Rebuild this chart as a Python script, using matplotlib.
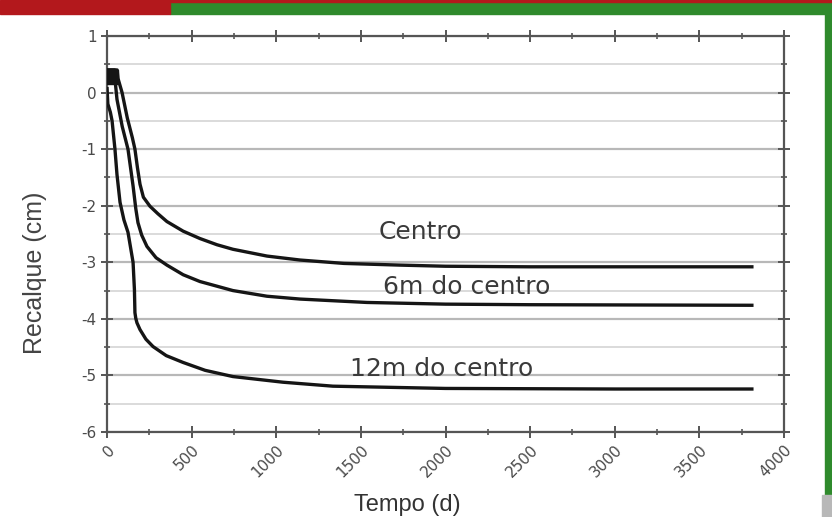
import matplotlib.pyplot as plt
from matplotlib.patches import Rectangle
from matplotlib.ticker import MultipleLocator

# === data ===
t_centro = [0, 60, 65, 89, 120, 150, 165, 180, 195, 215, 254, 300, 354, 450, 549, 650, 744,
            945, 1140, 1400, 1731, 2000, 2500, 3820]
v_centro = [0.4, 0.4, 0.25, 0.0, -0.45, -0.8, -1.0, -1.33, -1.62, -1.85, -2.01, -2.14, -2.28,
            -2.45, -2.58, -2.69, -2.77, -2.89, -2.96, -3.02, -3.05, -3.07, -3.08, -3.08]

t_6m = [0, 45, 50, 59, 90, 124, 154, 170, 183, 205, 236, 290, 354, 450, 549, 744, 945, 1140,
        1536, 2000, 2500, 3820]
v_6m = [0.4, 0.4, 0.15, -0.12, -0.6, -1.0, -1.65, -2.05, -2.3, -2.52, -2.72, -2.92, -3.05,
        -3.22, -3.34, -3.5, -3.6, -3.65, -3.71, -3.74, -3.75, -3.76]

t_12m = [0, 5, 20, 30, 47, 59, 77, 100, 124, 154, 162, 165, 170, 177, 195, 230, 272, 350, 449,
         580, 744, 1040, 1335, 2000, 3000, 3820]
v_12m = [0.1, -0.2, -0.35, -0.5, -1.0, -1.45, -1.94, -2.25, -2.47, -3.0, -3.48, -3.89, -3.99,
         -4.07, -4.19, -4.36, -4.49, -4.65, -4.77, -4.91, -5.02, -5.12, -5.19, -5.23, -5.24, -5.24]

# the dark filled patch where the first two curves start
block_t = [0, 65]
block_top = [0.4, 0.4]
block_bottom = [0.15, 0.15]

labels = ["Centro", "6m do centro", "12m do centro"]
label_pos = [(1849, -2.47), (2127, -3.43), (1979, -4.89)]

xticks = [0, 500, 1000, 1500, 2000, 2500, 3000, 3500, 4000]
yticks = [1, 0, -1, -2, -3, -4, -5, -6]

# === figure ===
fig = plt.figure(figsize=(8.32, 5.17), dpi=100)
W, H = 832, 517

# frame decorations (red / green bars)
fig.patches.append(Rectangle((170 / W, 1 - 14 / H), 1 - 170 / W, 12 / H,
                             transform=fig.transFigure, color="#2f8a2c", zorder=0))
fig.patches.append(Rectangle((170 / W, 1 - 2 / H), 1 - 170 / W, 2 / H,
                             transform=fig.transFigure, color="#b3181c", zorder=0))
fig.patches.append(Rectangle((0, 1 - 14 / H), 170 / W, 14 / H,
                             transform=fig.transFigure, color="#b3181c", zorder=0))
fig.patches.append(Rectangle((825 / W, 22 / H), 7 / W, 1 - 36 / H,
                             transform=fig.transFigure, color="#2f8a2c", zorder=0))
fig.patches.append(Rectangle((822 / W, 0), 10 / W, 22 / H,
                             transform=fig.transFigure, color="#b8b8b8", zorder=0))

ax = fig.add_axes([107 / W, 85 / H, 677 / W, 396 / H])

# --- curves ---
ax.fill_between(block_t, block_bottom, block_top, color="#151515", zorder=3)
for t, v in [(t_centro, v_centro), (t_6m, v_6m), (t_12m, v_12m)]:
    ax.plot(t, v, color="#151515", linewidth=2.4, solid_joinstyle="round",
            solid_capstyle="butt", zorder=3)

for text, (x, y) in zip(labels, label_pos):
    ax.text(x, y, text, fontsize=18, color="#3a3a3a", ha="center", va="center",
            family="DejaVu Sans", zorder=4)

# --- axes styling ---
ax.set_xlim(0, 4000)
ax.set_ylim(-6, 1)
ax.set_xticks(xticks)
ax.set_yticks(yticks)
ax.xaxis.set_minor_locator(MultipleLocator(250))
ax.yaxis.set_minor_locator(MultipleLocator(0.5))

ax.grid(True, axis="y", which="major", color="#b8b8b8", linewidth=1.6)
ax.grid(True, axis="y", which="minor", color="#d4d4d4", linewidth=1.2)
ax.set_axisbelow(True)

for s in ax.spines.values():
    s.set_color("#555555")
    s.set_linewidth(1.6)

ax.tick_params(which="major", direction="inout", length=8, width=1.4, color="#555555",
               top=True, right=True, labelcolor="#4a4a4a")
ax.tick_params(which="minor", direction="inout", length=5, width=1.2, color="#555555",
               top=True, right=True)

ax.set_yticklabels([str(v) for v in yticks], fontsize=11)
ax.set_xticklabels([str(v) for v in xticks], rotation=45, ha="right",
                   rotation_mode="anchor", fontsize=11)

fig.text(35 / W, 1 - 273 / H, "Recalque (cm)", fontsize=18, color="#444444",
         family="Liberation Sans", rotation=90, ha="center", va="center")
fig.text(407 / W, 1 / H, "Tempo (d)", fontsize=17, color="#333333",
         family="Liberation Sans", ha="center", va="bottom")

fig.savefig("out.png", dpi=100, facecolor="white")
